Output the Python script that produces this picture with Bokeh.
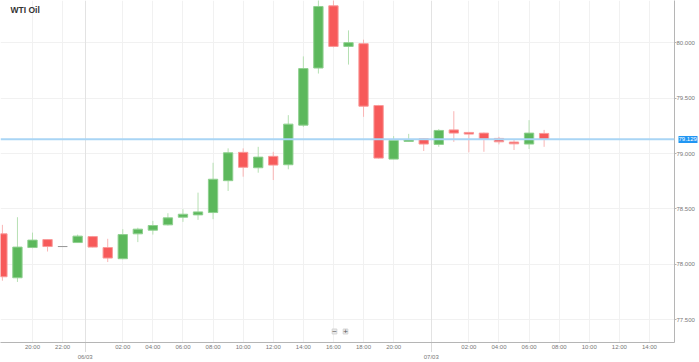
from bokeh.plotting import figure
from bokeh.models import (ColumnDataSource, FixedTicker, PrintfTickFormatter, LinearAxis,
                          Grid, Span, Label, Range1d)
from bokeh.embed import file_html
from bokeh.resources import INLINE

# ---- data: hourly candles (index based x axis, 05/03 18:00 -> 07/03 07:00) ----
candle_times = ["18:00", "19:00", "20:00", "21:00", "22:00", "23:00",
                "00:00", "01:00", "02:00", "03:00", "04:00", "05:00", "06:00", "07:00",
                "08:00", "09:00", "10:00", "11:00", "12:00", "13:00", "14:00", "15:00",
                "16:00", "17:00", "18:00", "19:00", "20:00", "21:00", "22:00",
                "00:00", "01:00", "02:00", "03:00", "04:00", "05:00", "06:00", "07:00"]
opens = [78.275, 77.878, 78.151, 78.223, 78.160, 78.196, 78.250, 78.151, 78.050, 78.275,
         78.308, 78.356, 78.425, 78.446, 78.467, 78.755, 79.011, 78.872, 78.975, 78.899,
         79.257, 79.773, 80.335, 79.968, 79.993, 79.434, 78.950, 79.110, 79.133, 79.083,
         79.214, 79.191, 79.185, 79.137, 79.104, 79.086, 79.182]
highs = [78.356, 78.425, 78.286, 78.228, 78.160, 78.268, 78.256, 78.230, 78.317, 78.330,
         78.392, 78.461, 78.497, 78.647, 78.917, 79.047, 79.047, 79.061, 79.016, 79.347,
         79.878, 80.400, 80.400, 80.113, 80.029, 79.440, 79.158, 79.178, 79.135, 79.221,
         79.383, 79.196, 79.190, 79.151, 79.122, 79.302, 79.214]
lows = [77.851, 77.840, 78.145, 78.115, 78.160, 78.192, 78.152, 78.020, 78.045, 78.200,
        78.268, 78.350, 78.383, 78.401, 78.407, 78.662, 78.791, 78.827, 78.761, 78.858,
        79.241, 79.723, 79.960, 79.804, 79.332, 78.955, 78.950, 79.108, 79.023, 79.061,
        79.106, 79.011, 79.016, 79.083, 79.032, 79.041, 79.061]
closes = [77.887, 78.155, 78.218, 78.160, 78.160, 78.254, 78.155, 78.056, 78.268, 78.317,
          78.350, 78.419, 78.452, 78.473, 78.768, 79.007, 78.876, 78.968, 78.896, 79.266,
          79.768, 80.329, 79.968, 80.002, 79.428, 78.959, 79.119, 79.124, 79.086, 79.209,
          79.185, 79.176, 79.131, 79.106, 79.088, 79.185, 79.129]
last_price = 79.129

hour_tick_pos = [2, 4, 8, 10, 12, 14, 16, 18, 20, 22, 24, 26, 31, 33, 35, 37, 39, 41, 43]
hour_tick_labels = ["20:00", "22:00", "02:00", "04:00", "06:00", "08:00", "10:00", "12:00",
                    "14:00", "16:00", "18:00", "20:00", "02:00", "04:00", "06:00", "08:00",
                    "10:00", "12:00", "14:00"]
date_tick_pos = [5.5, 28.5]
date_tick_labels = ["06/03", "07/03"]
price_ticks = [77.5, 78.0, 78.5, 79.0, 79.5, 80.0]

GREEN, GREEN_EDGE, GREEN_WICK = "#5cb85c", "#8fd08f", "#b6e0b3"
RED, RED_EDGE, RED_WICK = "#f75a5a", "#f99a9a", "#f9b4b4"
GRAY = "#9a9a9a"
TAG_BLUE = "#2196f3"

idx = list(range(len(opens)))
fill, edge, wick = [], [], []
for o, c in zip(opens, closes):
    if c > o:
        fill.append(GREEN); edge.append(GREEN_EDGE); wick.append(GREEN_WICK)
    elif c < o:
        fill.append(RED); edge.append(RED_EDGE); wick.append(RED_WICK)
    else:
        fill.append(GRAY); edge.append(GRAY); wick.append(GRAY)

src = ColumnDataSource(dict(
    x=idx, open=opens, close=closes, high=highs, low=lows,
    top=[max(o, c) for o, c in zip(opens, closes)],
    bottom=[min(o, c) for o, c in zip(opens, closes)],
    fill=fill, edge=edge, wick=wick, time=candle_times))

FONT = "Liberation Sans"

p = figure(width=699, height=362, output_backend="svg", toolbar_location=None,
           x_range=Range1d(-0.126, 44.665), y_range=Range1d(77.293, 80.383),
           y_axis_location="right", min_border_left=0, min_border_top=0,
           min_border_right=22, min_border_bottom=19)
p.outline_line_color = None
p.background_fill_color = "white"
p.border_fill_color = "white"

# grids
p.xgrid.ticker = FixedTicker(ticks=hour_tick_pos)
p.xgrid.grid_line_color = "#f1f1f1"
p.ygrid.ticker = FixedTicker(ticks=price_ticks)
p.ygrid.grid_line_color = "#f1f1f1"
p.add_layout(Grid(dimension=0, ticker=FixedTicker(ticks=date_tick_pos),
                  grid_line_color="#e3e3e3"))

# current price line
p.add_layout(Span(location=last_price, dimension="width", line_color="#a9d5f5", line_width=2))

# candles
p.segment(x0="x", y0="high", x1="x", y1="low", color="wick", line_width=1, source=src)
p.vbar(x="x", top="top", bottom="bottom", width=0.62, fill_color="fill",
       line_color="edge", line_width=1, source=src)

# bottom axis: hours (+ dotted day separators as minor ticks drawn outward)
xa = p.xaxis[0]
xa.ticker = FixedTicker(ticks=hour_tick_pos, minor_ticks=date_tick_pos)
xa.major_label_overrides = {t: l for t, l in zip(hour_tick_pos, hour_tick_labels)}
xa.axis_line_color = "#b5b5b5"
xa.major_tick_out = 0
xa.major_tick_in = 0
xa.minor_tick_out = 0
xa.minor_tick_in = -9
xa.minor_tick_line_color = "#b5b5b5"
xa.minor_tick_line_dash = "1 1"
xa.major_label_standoff = 1
xa.major_label_text_font_size = "6px"
xa.major_label_text_color = "#777777"
xa.major_label_text_font = FONT

# second bottom axis: dates
da = LinearAxis(ticker=FixedTicker(ticks=date_tick_pos),
                major_label_overrides={t: l for t, l in zip(date_tick_pos, date_tick_labels)})
da.axis_line_color = None
da.major_tick_line_color = None
da.minor_tick_line_color = None
da.major_tick_out = 0
da.major_tick_in = 0
da.minor_tick_out = 0
da.minor_tick_in = 0
da.major_label_standoff = 1
da.major_label_text_font_size = "6px"
da.major_label_text_color = "#777777"
da.major_label_text_font = FONT
p.add_layout(da, "below")

# right price axis
ya = p.yaxis[0]
ya.ticker = FixedTicker(ticks=price_ticks)
ya.formatter = PrintfTickFormatter(format="%.3f")
ya.axis_line_color = "#b5b5b5"
ya.major_tick_out = 2
ya.major_tick_in = 0
ya.minor_tick_out = 0
ya.minor_tick_in = 0
ya.major_tick_line_color = "#b5b5b5"
ya.minor_tick_line_color = None
ya.major_label_standoff = 0
ya.major_label_text_font_size = "6px"
ya.major_label_text_color = "#777777"
ya.major_label_text_font = FONT

# last price tag: an extra right axis whose single thick tick forms the blue box
ta = LinearAxis(ticker=FixedTicker(ticks=[last_price]),
                formatter=PrintfTickFormatter(format="%.3f"))
ta.axis_line_color = None
ta.minor_tick_line_color = None
ta.minor_tick_out = 0
ta.minor_tick_in = 0
ta.major_tick_out = 0
ta.major_tick_in = 19
ta.major_tick_line_color = TAG_BLUE
ta.major_tick_line_width = 7
ta.major_tick_line_cap = "butt"
ta.major_label_standoff = -19
ta.major_label_text_font_size = "6px"
ta.major_label_text_color = "white"
ta.major_label_text_font = FONT
p.add_layout(ta, "right")

# title
p.add_layout(Label(x=10, y=333, x_units="screen", y_units="screen", text="WTI Oil",
                   text_font_size="8.5px", text_font_style="bold", text_color="#333333",
                   text_font=FONT, text_baseline="middle", text_align="left"))

# zoom buttons
for sx, t in [(334, "\u2212"), (345, "+")]:
    p.add_layout(Label(x=sx, y=11, x_units="screen", y_units="screen", text=t,
                       text_font_size="8px", text_color="#555555", text_font=FONT,
                       text_baseline="middle", text_align="center",
                       background_fill_color="#e9e9e9", border_line_color="#d5d5d5"))

open("out.html", "w").write(file_html(p, INLINE))
